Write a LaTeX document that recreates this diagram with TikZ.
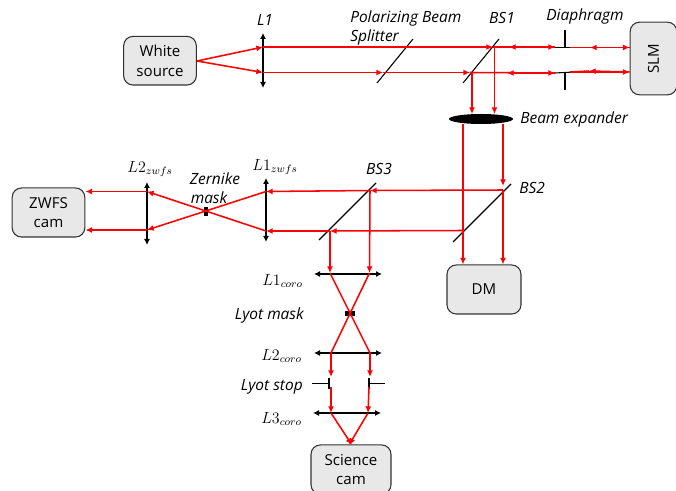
\documentclass[tikz,border=0pt]{standalone}
\usepackage{fontspec}
\setmainfont{Open Sans}
\usetikzlibrary{arrows.meta,calc,shapes.geometric}
\tikzset{
  px/.style={x=0.75pt,y=-0.75pt},
  devbox/.style={draw=black!80,line width=0.8pt,fill=black!9,rounded corners=7pt,inner sep=0pt,align=center,font=\fontsize{11.3pt}{14.6pt}\selectfont},
  lbl/.style={inner sep=0pt,font=\fontsize{11.6pt}{14pt}\selectfont\itshape,align=center},
  mlbl/.style={inner sep=0pt,font=\fontsize{12pt}{14pt}\selectfont},
  ray/.style={draw=red,line width=1.15pt},
  rayh/.style={ray,-{Latex[length=5pt,width=4.5pt]}},
  lens/.style={draw=black,line width=0.8pt,{Latex[length=4.5pt,width=4.5pt]}-{Latex[length=4.5pt,width=4.5pt]}},
  mirror/.style={draw=black,line width=0.8pt},
  stopline/.style={draw=black,line width=0.8pt},
  blk/.style={fill=black,draw=none,inner sep=0pt},
}
\begin{document}
\begin{tikzpicture}[px]
\useasboundingbox (0,0) rectangle (676,491);
% boxes
\node[devbox,minimum width=54.5pt,minimum height=36.5pt] (white) at (160,60.7) {White\\source};
\node[devbox,minimum width=35pt,minimum height=54.5pt] (slm) at (653.5,58.5) {\rotatebox{90}{SLM}};
\node[devbox,minimum width=54.5pt,minimum height=36.8pt] (zwfs) at (48.5,212.5) {ZWFS\\cam};
\node[devbox,minimum width=55.5pt,minimum height=36.8pt] (dm) at (484,289.5) {DM};
\node[devbox,minimum width=60pt,minimum height=36.8pt] (sci) at (351,469.5) {Science\\cam};
% mask and expander
\node[blk,ellipse,minimum width=48pt,minimum height=7.5pt] (bexp) at (481,119) {};
\node[blk,minimum width=3.2pt,minimum height=6.5pt] (zmask) at (206,211.5) {};
\node[blk,minimum width=7.5pt,minimum height=3.4pt] (lmask) at (350,313.5) {};
% lens ends
\coordinate (L1t) at (263,33); \coordinate (L1b) at (263,88);
\coordinate (LZ1t) at (266,178); \coordinate (LZ1b) at (266,242);
\coordinate (LZ2t) at (147,182); \coordinate (LZ2b) at (147,245);
\coordinate (LC1l) at (314,274); \coordinate (LC1r) at (382,274);
\coordinate (LC2l) at (314,353); \coordinate (LC2r) at (382,353);
\coordinate (LC3l) at (313,413); \coordinate (LC3r) at (381,413);
% mirror ends
\coordinate (PBa) at (377,83); \coordinate (PBb) at (413,39);
\coordinate (B1a) at (463,83); \coordinate (B1b) at (499,39);
\coordinate (B2a) at (453,242); \coordinate (B2b) at (511,184);
\coordinate (B3a) at (319,240); \coordinate (B3b) at (376,183);
% ray points
\coordinate (src) at (197,61);
\coordinate (p1t) at (263,47); \coordinate (p1b) at (263,72.5);
\coordinate (pbs) at (383,72.5);
\coordinate (bs1t) at (493,47); \coordinate (bs1b) at (470,72.5);
\coordinate (mt) at (509,47); \coordinate (mb) at (507,73);
\coordinate (dt) at (555,47); \coordinate (db) at (555,73);
\coordinate (dtr) at (570,47.5); \coordinate (dbr) at (570,72);
\coordinate (st) at (590,47.5); \coordinate (sb) at (589,71);
\coordinate (ex1) at (472,114); \coordinate (ex2) at (494.5,114);
\coordinate (e1) at (463,124); \coordinate (e2) at (503,124);
\coordinate (b2l) at (463,230.5); \coordinate (b2r) at (503,186);
\coordinate (b2rr) at (503,190);
\coordinate (b3r) at (370,190.5); \coordinate (b3l) at (330,231);
\coordinate (z1t) at (266,191.5); \coordinate (z1b) at (266,231);
\coordinate (z2t) at (147,191.5); \coordinate (z2b) at (147,230);
\coordinate (c1l) at (330,273); \coordinate (c1r) at (369.5,273);
\coordinate (c2l) at (331,353); \coordinate (c2r) at (370,353);
\coordinate (c2la) at (331,377); \coordinate (c2ra) at (370,377);
\coordinate (c2lb) at (331,387); \coordinate (c2rb) at (369,387);
\coordinate (c3l) at (331,413); \coordinate (c3r) at (368,413);
\coordinate (sc) at (349,445); \coordinate (sd) at (352,445);
% optics
\draw[lens] (L1t) -- (L1b);
\draw[lens] (LZ1t) -- (LZ1b);
\draw[lens] (LZ2t) -- (LZ2b);
\draw[lens] (LC1l) -- (LC1r);
\draw[lens] (LC2l) -- (LC2r);
\draw[lens] (LC3l) -- (LC3r);
\draw[mirror] (PBa) -- (PBb);
\draw[mirror] (B1a) -- (B1b);
\draw[mirror] (B2a) -- (B2b);
\draw[mirror] (B3a) -- (B3b);
% diaphragm and Lyot stop
\draw[stopline] (555,47.5) coordinate (d1a) -- (574,47.5) coordinate (d1b);
\draw[stopline] (565,30) coordinate (d1c) -- (565,47.5) coordinate (d1d);
\draw[stopline] (555,73) coordinate (d2a) -- (574,72) coordinate (d2b);
\draw[stopline] (565,73) coordinate (d2c) -- (565,90) coordinate (d2d);
\draw[stopline] (312,383.5) coordinate (s1a) -- (329,383.5) coordinate (s1b);
\draw[stopline] (329,378) coordinate (s1c) -- (329,389) coordinate (s1d);
\draw[stopline] (385,383.5) coordinate (s2a) -- (369,383.5) coordinate (s2b);
\draw[stopline] (369,378) coordinate (s2c) -- (369,389) coordinate (s2d);
% rays: source to L1
\draw[rayh] (src) -- (p1t);
\draw[rayh] (src) -- (p1b);
% top arm
\draw[rayh] (p1t) -- (bs1t);
\draw[rayh] (bs1t) -- (dt);
\draw[rayh] (dt) -- (mt);
\draw[rayh] (dtr) -- (slm.west |- dtr);
\draw[rayh] (slm.west |- dtr) -- (st);
\draw[ray] (st) -- (dtr);
% lower arm
\draw[rayh] (p1b) -- (pbs);
\draw[rayh] (pbs) -- (bs1b);
\draw[rayh] (bs1b) -- (db);
\draw[rayh] (db) -- (mb);
\draw[rayh] (dbr) -- (slm.west |- dbr);
\draw[rayh] (slm.west |- dbr) -- (sb);
\draw[ray] (sb) -- (dbr);
% towards expander
\draw[rayh] (bs1b -| ex1) -- (ex1);
\draw[rayh] (bs1t -| ex2) -- (ex2);
% after expander
\draw[rayh] (e1) -- (dm.north -| e1);
\draw[rayh] (e2) -- (b2r);
\draw[rayh] (b2rr) -- (dm.north -| b2rr);
\draw[rayh] (b2rr) -- (b3r);
\draw[rayh] (b2l) -- (b3l);
\draw[rayh] (b3r) -- (z1t);
\draw[rayh] (b3l) -- (z1b);
% ZWFS arm
\draw[rayh] (z1t) -- (z2b);
\draw[rayh] (z1b) -- (z2t);
\draw[rayh] (z2t) -- (zwfs.east |- z2t);
\draw[rayh] (z2b) -- (zwfs.east |- z2b);
% coronagraph arm
\draw[rayh] (b3l) -- (c1l);
\draw[rayh] (b3r) -- (c1r);
\draw[ray] (c1l) -- (c2r);
\draw[ray] (c1r) -- (c2l);
\draw[rayh] (c2l) -- (c2la);
\draw[rayh] (c2r) -- (c2ra);
\draw[rayh] (c2lb) -- (c3l);
\draw[rayh] (c2rb) -- (c3r);
\draw[rayh] (c3l) -- (sd);
\draw[rayh] (c3r) -- (sc);
% labels
\node[lbl] (tL1) at (265,20) {L1};
\node[lbl,anchor=west] (tPB1) at (350,18.5) {Polarizing Beam};
\node[lbl,anchor=west] (tPB2) at (350,37.5) {Splitter};
\node[lbl] (tB1) at (502,18) {BS1};
\node[lbl] (tDia) at (585,16.5) {Diaphragm};
\node[lbl,anchor=west] (tBE) at (520,119) {Beam expander};
\node[lbl,anchor=west] (tB2) at (519,188) {BS2};
\node[lbl] (tB3) at (379,169) {BS3};
\node[lbl] (tZ1) at (215,179) {Zernike};
\node[lbl] (tZ2) at (209,198) {mask};
\node[lbl,anchor=east] (tLm) at (304,315.5) {Lyot mask};
\node[lbl,anchor=east] (tLs) at (303,387) {Lyot stop};
\node[mlbl] (tLZ2) at (150,169) {$L2_{zwfs}$};
\node[mlbl] (tLZ1) at (275,167) {$L1_{zwfs}$};
\node[mlbl,anchor=east] (tLC1) at (303,281) {$L1_{coro}$};
\node[mlbl,anchor=east] (tLC2) at (302,356) {$L2_{coro}$};
\node[mlbl,anchor=east] (tLC3) at (302,419) {$L3_{coro}$};
\end{tikzpicture}
\end{document}
